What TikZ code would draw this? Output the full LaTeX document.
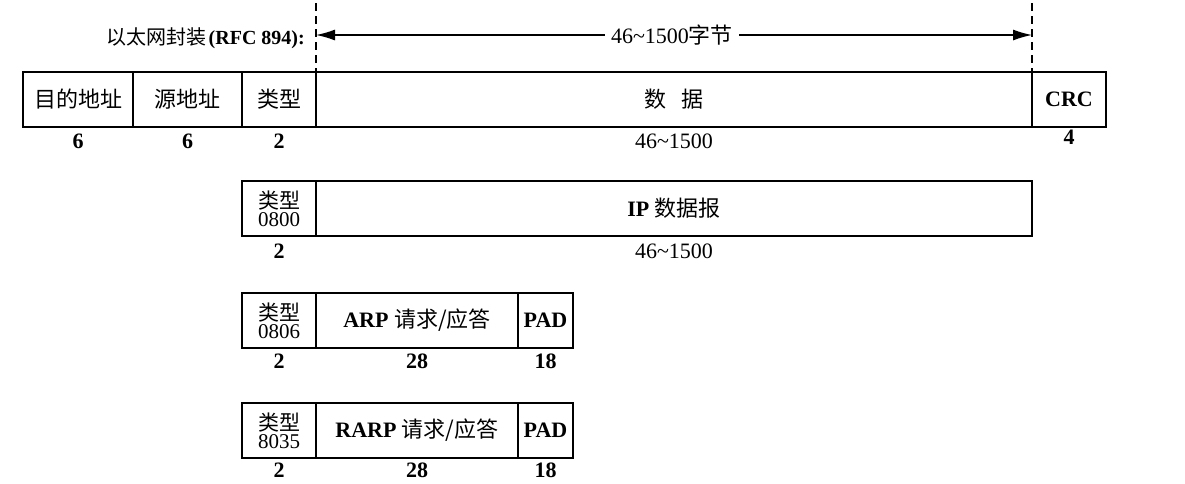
\documentclass[tikz,border=0pt]{standalone}
\usepackage{fontspec}
\setmainfont{Liberation Serif}
\newfontfamily\cjk{Noto Sans CJK SC}
\usetikzlibrary{arrows.meta}
\begin{document}
\begin{tikzpicture}[x=1pt,y=-1pt,
  cell/.style={draw,line width=1.3pt,inner sep=0pt,outer sep=0pt,minimum height=55pt,font=\fontsize{22}{24}\selectfont,align=center},
  tcell/.style={cell,font=\fontsize{21}{18}\selectfont},
  lab/.style={inner sep=0pt,font=\fontsize{22}{24}\selectfont\bfseries},
  rlab/.style={inner sep=0pt,font=\fontsize{22}{24}\selectfont},
  dline/.style={line width=1.2pt,dash pattern=on 8pt off 5pt},
  arr/.style={line width=1.3pt,{Latex[length=19pt,width=11pt]}-{Latex[length=19pt,width=11pt]}}]
\useasboundingbox (0,0) rectangle (1185,483);
% row 1
\node[cell,minimum width=110pt] (dst) at (78,99.5) {\cjk 目的地址};
\node[cell,minimum width=109pt] (src) at (187.5,99.5) {\cjk 源地址};
\node[cell,minimum width=74pt] (ty1) at (279,99.5) {\cjk 类型};
\node[cell,minimum width=716pt] (data) at (674,99.5) {\cjk 数\hspace{0.7em}据};
\node[cell,minimum width=74pt] (crc) at (1069,99.5) {\bfseries CRC};
\node[lab] (l11) at (78,141) {6};
\node[lab] (l12) at (187.5,141) {6};
\node[lab] (l13) at (279,141) {2};
\node[rlab] (l14) at (674,141) {46\textasciitilde1500};
\node[lab] (l15) at (1069,137) {4};
% header
\node[anchor=east,inner sep=0pt] (hdr) at (305,38) {{\cjk\fontsize{20}{22}\selectfont 以太网封装} {\fontsize{20}{22}\selectfont\bfseries (RFC 894):}};
\coordinate (d1) at (316,3);
\coordinate (d2) at (1032,3);
\draw[dline] (d1) -- (ty1.north east);
\draw[dline] (d2) -- (data.north east);
\coordinate (a1) at (316,35);
\coordinate (a2) at (1032,35);
\draw[arr] (a1) -- (a2);
\node[fill=white,inner sep=6pt,font=\fontsize{22}{24}\selectfont] (alab) at (672,35) {46\textasciitilde1500{\cjk 字节}};
% row 2
\node[tcell,minimum width=74pt] (ty2) at (279,208.5) {{\cjk 类型}\\0800};
\node[cell,minimum width=716pt] (ip) at (674,208.5) {\textbf{IP} {\cjk 数据报}};
\node[lab] (l21) at (279,251) {2};
\node[rlab] (l22) at (674,251) {46\textasciitilde1500};
% row 3
\node[tcell,minimum width=74pt] (ty3) at (279,320.5) {{\cjk 类型}\\0806};
\node[cell,minimum width=202pt] (arp) at (417,320.5) {\textbf{ARP} {\cjk 请求/应答}};
\node[cell,minimum width=55pt] (pad1) at (545.5,320.5) {\bfseries PAD};
\node[lab] (l31) at (279,361) {2};
\node[lab] (l32) at (417,361) {28};
\node[lab] (l33) at (545.5,361) {18};
% row 4
\node[tcell,minimum width=74pt] (ty4) at (279,430.5) {{\cjk 类型}\\8035};
\node[cell,minimum width=202pt] (rarp) at (417,430.5) {\textbf{RARP} {\cjk 请求/应答}};
\node[cell,minimum width=55pt] (pad2) at (545.5,430.5) {\bfseries PAD};
\node[lab] (l41) at (279,470) {2};
\node[lab] (l42) at (417,470) {28};
\node[lab] (l43) at (545.5,470) {18};
\end{tikzpicture}
\end{document}
